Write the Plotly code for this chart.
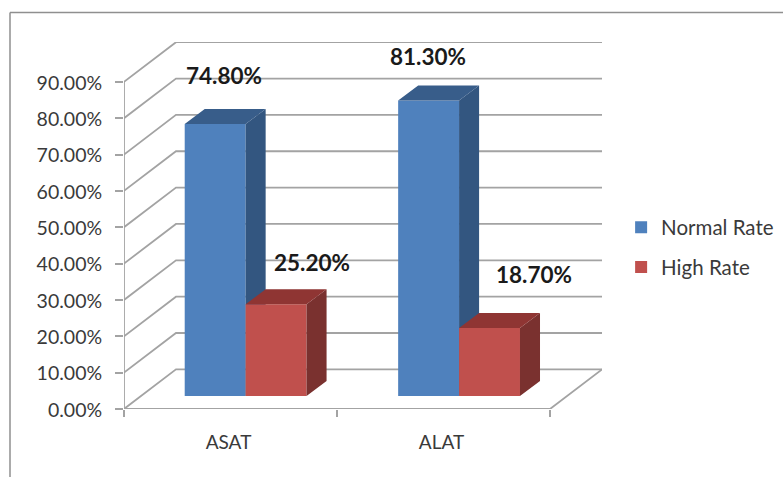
import plotly.graph_objects as go

categories = ["ASAT", "ALAT"]
normal_rate = [74.8, 81.3]
high_rate = [25.2, 18.7]
y_ticks = [0, 10, 20, 30, 40, 50, 60, 70, 80, 90]

# pseudo-3D projection, in axis units
WALL_DX, WALL_DY = 0.244, 10.9
BAR_DX, BAR_DY = 0.094, 4.13
BAR_W = 0.286
BASE = 3.58
CENTERS = [0.571, 1.573]
X_MAX, Y_MAX = 2.244, 100.95
FONT = "Lato"

fig = go.Figure()
GRID = dict(color="#a3a3a3", width=1.8)


def line(xs, ys, **kw):
    fig.add_trace(go.Scatter(x=xs, y=ys, mode="lines", line=kw.get("line", GRID),
                             showlegend=False, hoverinfo="skip", cliponaxis=False))


# walls and floor
gx, gy = [], []
for t in y_ticks:
    gx += [0, WALL_DX, 2 + WALL_DX, None]
    gy += [t, t + WALL_DY, t + WALL_DY, None]
line(gx, gy)
line([0, 0, None, 0, 2, 2 + WALL_DX], [90, 0, None, 0, 0, WALL_DY])


def faces(series, left, right, side_color, top_color, xa, ya):
    sx, sy, tx, ty = [], [], [], []
    for l, r, v in zip(left, right, series):
        top = BASE + v
        sx += [r, r + BAR_DX, r + BAR_DX, r, r, None]
        sy += [BASE, BASE + BAR_DY, top + BAR_DY, top, BASE, None]
        tx += [l, l + BAR_DX, r + BAR_DX, r, l, None]
        ty += [top, top + BAR_DY, top + BAR_DY, top, top, None]
    for xs, ys, col in ((sx, sy, side_color), (tx, ty, top_color)):
        fig.add_trace(go.Scatter(x=xs, y=ys, mode="none", fill="toself", fillcolor=col,
                                 showlegend=False, hoverinfo="skip", xaxis=xa, yaxis=ya))


def series(name, values, lo, hi, front, side, top, xa, ya):
    fig.add_trace(go.Bar(name=name, x=[(a + b) / 2 for a, b in zip(lo, hi)], y=values,
                         base=BASE, width=BAR_W, marker=dict(color=front, line=dict(width=0)),
                         xaxis=xa, yaxis=ya, legendgroup=name))
    faces(values, lo, hi, side, top, xa, ya)


series("Normal Rate", normal_rate, [c - BAR_W for c in CENTERS], CENTERS,
       "#4f81bd", "#335680", "#385d8a", "x2", "y2")
series("High Rate", high_rate, CENTERS, [c + BAR_W for c in CENTERS],
       "#c0504d", "#7a312f", "#8f3533", "x3", "y3")

# data labels: offsets in pixels from the bar's top-centre
normal_off = [(9, 49), (-1, 44)]
high_off = [(36, 42), (44, 54)]
for vals, off, sign in ((normal_rate, normal_off, -1), (high_rate, high_off, 1)):
    for c, v, (dx, dy) in zip(CENTERS, vals, off):
        fig.add_annotation(x=c + sign * BAR_W / 2, y=BASE + v, xref="x", yref="y",
                           text=f"<b>{v:.2f}%</b>", showarrow=False, xshift=dx, yshift=dy,
                           font=dict(family=FONT, size=22.5, color="#1a1a1a"))

hidden = dict(visible=False, fixedrange=True)
fig.update_layout(
    width=783, height=477, autosize=False, barmode="overlay",
    paper_bgcolor="white", plot_bgcolor="white",
    margin=dict(l=124, r=181, t=42, b=68, pad=0, autoexpand=False),
    font=dict(family=FONT, color="#3a3a3a"),
    xaxis=dict(range=[0, X_MAX], showgrid=False, zeroline=False, showline=False,
               tickmode="array", tickvals=[0.5, 1.5], ticktext=categories, ticks="",
               tickfont=dict(size=19), ticklabelstandoff=20, ticklabelshift=-2,
               minor=dict(tickmode="array", tickvals=[0, 1, 2], ticks="outside",
                          ticklen=7, tickwidth=1.8, tickcolor="#a3a3a3", showgrid=False)),
    yaxis=dict(range=[0, Y_MAX], showgrid=False, zeroline=False, showline=False,
               tickmode="array", tickvals=y_ticks, ticktext=[f"{t:.2f}%" for t in y_ticks],
               ticks="outside", ticklen=8, tickwidth=1.8, tickcolor="#a3a3a3",
               tickfont=dict(size=19.5), ticklabelstandoff=9, ticklabelshift=1),
    xaxis2=dict(range=[0, X_MAX], overlaying="x", **hidden),
    yaxis2=dict(range=[0, Y_MAX], overlaying="y", **hidden),
    xaxis3=dict(range=[0, X_MAX], overlaying="x", **hidden),
    yaxis3=dict(range=[0, Y_MAX], overlaying="y", **hidden),
    legend=dict(x=1.04, y=0.549, xanchor="left", yanchor="top", traceorder="grouped",
                tracegroupgap=10, font=dict(size=20.5, color="#3a3a3a"),
                itemclick=False, itemdoubleclick=False, bgcolor="rgba(0,0,0,0)"),
    shapes=[
        dict(type="line", xref="paper", yref="paper",
             x0=(10 - 124) / 478, x1=(783 - 124) / 478, y0=1 + 29.5 / 367, y1=1 + 29.5 / 367,
             line=dict(color="#8f8f8f", width=1.5)),
        dict(type="line", xref="paper", yref="paper",
             x0=(10 - 124) / 478, x1=(10 - 124) / 478, y0=-68 / 367, y1=1 + 29.5 / 367,
             line=dict(color="#8f8f8f", width=1.5)),
    ],
)

fig.write_html("out.html", config=dict(displayModeBar=False),
               post_script="document.body.style.margin='0';document.body.style.overflow='hidden';")
